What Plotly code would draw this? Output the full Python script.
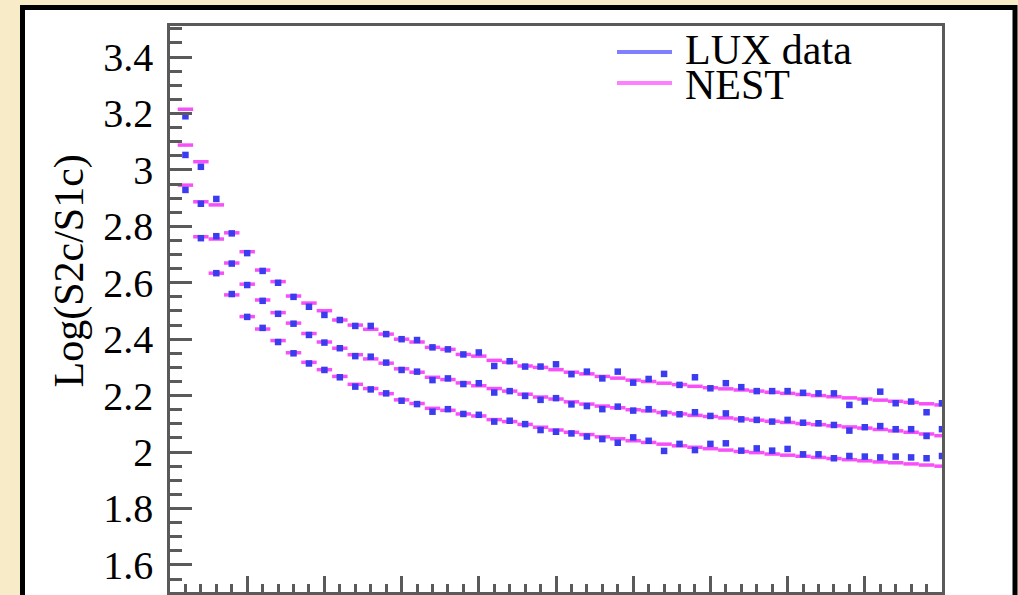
import plotly.graph_objects as go

# ---- data ----
bins = list(range(1, 51))

lux_upper = [3.19, 3.011, 2.897, 2.775, 2.705, 2.642, 2.60, 2.55, 2.515, 2.486,
             2.468, 2.447, 2.447, 2.418, 2.40, 2.397, 2.371, 2.364, 2.346, 2.353,
             2.305, 2.322, 2.303, 2.303, 2.311, 2.276, 2.285, 2.261, 2.285, 2.246,
             2.259, 2.277, 2.238, 2.265, 2.226, 2.244, 2.23, 2.216, 2.216, 2.216,
             2.21, 2.208, 2.208, 2.167, 2.179, 2.214, 2.173, 2.179, 2.141, 2.173]
lux_middle = [3.053, 2.88, 2.765, 2.668, 2.592, 2.536, 2.49, 2.455, 2.415, 2.388,
              2.368, 2.34, 2.338, 2.317, 2.291, 2.285, 2.255, 2.261, 2.241, 2.244,
              2.211, 2.216, 2.199, 2.185, 2.191, 2.169, 2.163, 2.152, 2.161, 2.147,
              2.152, 2.137, 2.134, 2.141, 2.128, 2.137, 2.116, 2.114, 2.108, 2.114,
              2.104, 2.102, 2.096, 2.076, 2.088, 2.092, 2.081, 2.081, 2.057, 2.081]
lux_lower = [2.929, 2.758, 2.634, 2.56, 2.479, 2.44, 2.39, 2.35, 2.314, 2.291,
             2.265, 2.232, 2.222, 2.208, 2.182, 2.170, 2.143, 2.152, 2.135, 2.132,
             2.108, 2.111, 2.099, 2.078, 2.072, 2.066, 2.055, 2.046, 2.033, 2.052,
             2.04, 2.004, 2.029, 2.007, 2.029, 2.031, 2.005, 2.013, 2.005, 2.011,
             1.992, 1.992, 1.978, 1.986, 1.984, 1.981, 1.984, 1.981, 1.978, 1.986]

nest_upper = [3.215, 3.029, 2.876, 2.777, 2.71, 2.645, 2.604, 2.553, 2.528, 2.501,
              2.468, 2.45, 2.435, 2.418, 2.40, 2.39, 2.371, 2.364, 2.346, 2.340,
              2.325, 2.318, 2.305, 2.300, 2.292, 2.283, 2.277, 2.268, 2.262, 2.255,
              2.250, 2.244, 2.239, 2.233, 2.228, 2.224, 2.220, 2.216, 2.212, 2.208,
              2.204, 2.200, 2.196, 2.192, 2.188, 2.184, 2.180, 2.176, 2.171, 2.167]
nest_middle = [3.088, 2.887, 2.755, 2.67, 2.595, 2.539, 2.494, 2.457, 2.42, 2.39,
               2.368, 2.345, 2.33, 2.315, 2.295, 2.283, 2.265, 2.257, 2.245, 2.235,
               2.225, 2.216, 2.205, 2.195, 2.188, 2.178, 2.170, 2.163, 2.157, 2.150,
               2.146, 2.140, 2.135, 2.130, 2.126, 2.121, 2.117, 2.113, 2.109, 2.105,
               2.101, 2.097, 2.093, 2.089, 2.085, 2.080, 2.075, 2.070, 2.064, 2.058]
nest_lower = [2.946, 2.763, 2.634, 2.557, 2.48, 2.436, 2.395, 2.352, 2.318, 2.292,
              2.268, 2.240, 2.225, 2.207, 2.185, 2.172, 2.155, 2.148, 2.135, 2.128,
              2.115, 2.108, 2.098, 2.088, 2.078, 2.070, 2.062, 2.054, 2.047, 2.040,
              2.034, 2.028, 2.022, 2.017, 2.012, 2.007, 2.002, 1.998, 1.993, 1.989,
              1.985, 1.981, 1.977, 1.973, 1.969, 1.965, 1.962, 1.958, 1.954, 1.950]

y_ticks = [1.6, 1.8, 2.0, 2.2, 2.4, 2.6, 2.8, 3.0, 3.2, 3.4]
y_tick_text = ["1.6", "1.8", "2", "2.2", "2.4", "2.6", "2.8", "3", "3.2", "3.4"]
legend_names = ["LUX data", "NEST"]
y_title = "Log(S2c/S1c)"

BIN_W = 1.0
NEST_COLOR = "#f850f8"
LUX_COLOR = "#3b3bf0"
FONT = "Liberation Serif, Times New Roman, serif"


def bin_segments(xs, ys, w):
    sx, sy = [], []
    for x, y in zip(xs, ys):
        sx += [x - w / 2, x + w / 2, None]
        sy += [y, y, None]
    return sx, sy


fig = go.Figure()

for band in (nest_upper, nest_middle, nest_lower):
    sx, sy = bin_segments(bins, band, BIN_W)
    fig.add_trace(go.Scatter(x=sx, y=sy, mode="lines",
                             line=dict(color=NEST_COLOR, width=3.5),
                             showlegend=False, hoverinfo="skip"))

for band in (lux_upper, lux_middle, lux_lower):
    fig.add_trace(go.Scatter(x=bins, y=band, mode="markers",
                             marker=dict(symbol="square", size=6.5, color=LUX_COLOR,
                                         line=dict(width=0)),
                             showlegend=False))

# plot geometry helpers (pixels -> paper)
L, R, T, B = 170, 76, 26, 3
W, H = 1018, 595
PW, PH = W - L - R, H - T - B


def px(xp):
    return (xp - L) / PW


def py(yp):
    return (H - B - yp) / PH


shapes = [
    # outer black frame
    dict(type="rect", xref="paper", yref="paper",
         x0=px(22.5), x1=px(1015), y0=py(640), y1=py(7.5),
         line=dict(color="black", width=5), fillcolor="white", layer="below"),
    # legend swatches
    dict(type="line", xref="paper", yref="paper",
         x0=px(617), x1=px(672), y0=py(52), y1=py(52),
         line=dict(color="#8080ff", width=4)),
    dict(type="line", xref="paper", yref="paper",
         x0=px(617), x1=px(672), y0=py(83), y1=py(83),
         line=dict(color="#ff80ff", width=4)),
]

annotations = [
    dict(text=legend_names[0], xref="paper", yref="paper", x=px(683), y=py(50),
         xanchor="left", yanchor="middle", showarrow=False,
         font=dict(family=FONT, size=42, color="black")),
    dict(text=legend_names[1], xref="paper", yref="paper", x=px(683), y=py(85),
         xanchor="left", yanchor="middle", showarrow=False,
         font=dict(family=FONT, size=42, color="black")),
    dict(text=y_title, xref="paper", yref="paper", x=px(69), y=py(271.5),
         xanchor="center", yanchor="middle", textangle=-90, showarrow=False,
         font=dict(family=FONT, size=42, color="black")),
]

fig.update_layout(
    width=W, height=H,
    margin=dict(l=L, r=R, t=T, b=B, pad=0),
    paper_bgcolor="#f8ebc8",
    plot_bgcolor="white",
    showlegend=False,
    shapes=shapes,
    annotations=annotations,
    font=dict(family=FONT, color="black"),
)

fig.update_xaxes(
    range=[0, 50], showgrid=False, zeroline=False,
    showline=True, linecolor="#5a5a5a", linewidth=2.5, mirror=True,
    ticks="inside", tickmode="linear", tick0=0, dtick=5, ticklen=16,
    tickwidth=2.5, tickcolor="#5a5a5a", showticklabels=False,
    minor=dict(ticks="inside", dtick=1, ticklen=8, tickwidth=2.5,
               tickcolor="#5a5a5a", showgrid=False),
)

fig.update_yaxes(
    range=[1.504, 3.51], showgrid=False, zeroline=False,
    showline=True, linecolor="#5a5a5a", linewidth=2.5, mirror=True,
    ticks="inside", tickmode="array", tickvals=y_ticks, ticktext=y_tick_text,
    ticklen=22, tickwidth=2.5, tickcolor="#5a5a5a",
    tickfont=dict(family=FONT, size=40, color="black"),
    ticklabelstandoff=6,
    minor=dict(ticks="inside", tick0=1.5, dtick=0.05, ticklen=12, tickwidth=2.5,
               tickcolor="#5a5a5a", showgrid=False),
)

fig.write_html("out.html")
